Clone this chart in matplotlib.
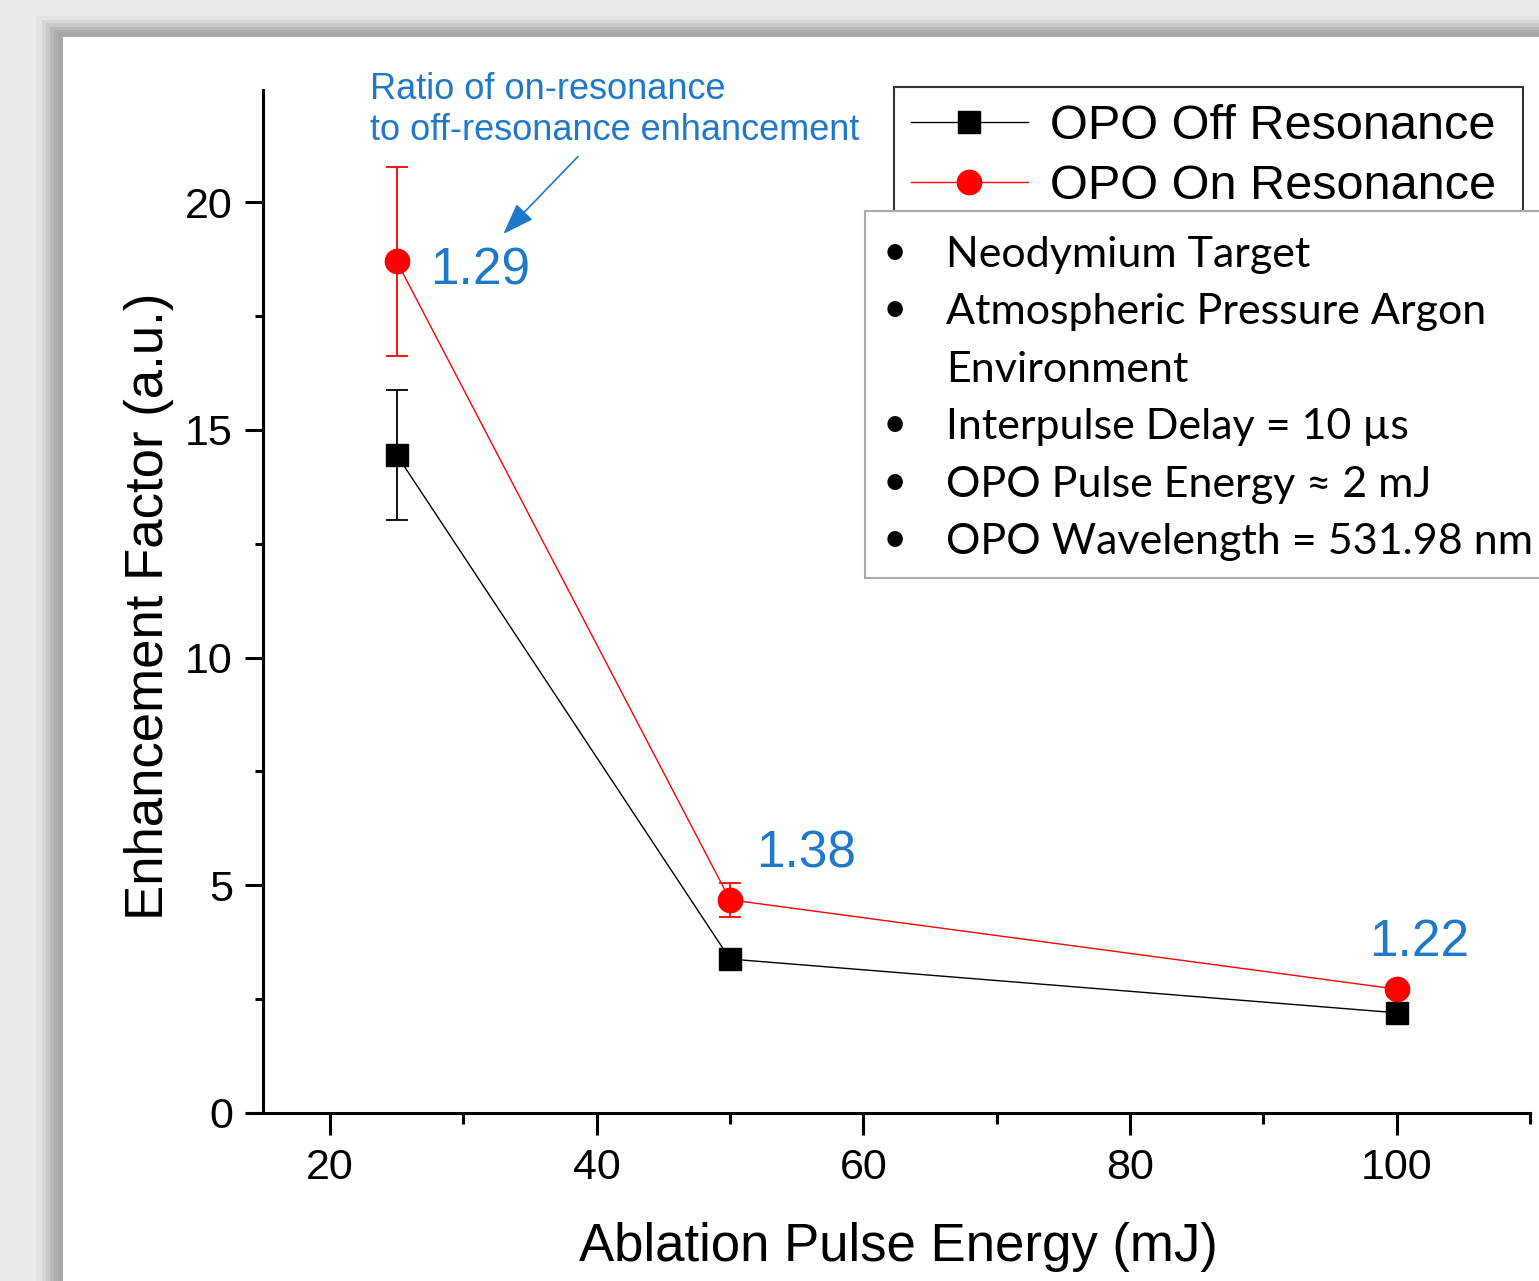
import matplotlib
matplotlib.use("Agg")
import matplotlib.pyplot as plt
from matplotlib.patches import Rectangle
from matplotlib.ticker import MultipleLocator

# -----------------------------------------------------------------------
# Data
# -----------------------------------------------------------------------
energy = [25, 50, 100]                       # ablation pulse energy (mJ)
off_res = [14.45, 3.38, 2.20]                # OPO off resonance
off_err = [1.43, 0.15, 0.10]
on_res = [18.70, 4.68, 2.72]                 # OPO on resonance
on_err = [2.07, 0.37, 0.12]
ratio_labels = ["1.29", "1.38", "1.22"]      # on / off ratio
ratio_offsets = [(24, -17), (19, 23), (-20, 24)]   # label offsets in points

conditions = [
    "Neodymium Target",
    "Atmospheric Pressure Argon",
    "Environment",
    "Interpulse Delay = 10 \u00b5s",
    "OPO Pulse Energy \u2248 2 mJ",
    "OPO Wavelength = 531.98 nm",
]
has_bullet = [True, True, False, True, True, True]

W, H = 1539, 1281
BLUE = "#1f78c8"
ARIAL = "Liberation Sans"


def fx(px):
    return px / W


def fy(py):
    return 1 - py / H


fig = plt.figure(figsize=(W / 100, H / 100), dpi=100, facecolor="#ececec")

# -- slide-style frame with soft shadow --
shadow = [(36, 16, "#e3e3e3"), (42, 20, "#d6d6d6"), (46, 23, "#c8c8c8"),
          (50, 27, "#b8b8b8"), (54, 30, "#adadad"), (58, 33, "#a8a8a8")]
for left, top, col in shadow:
    fig.patches.append(Rectangle((fx(left), 0), 1, fy(top), transform=fig.transFigure,
                                 facecolor=col, edgecolor="none", zorder=-20))
fig.patches.append(Rectangle((fx(63), 0), 1, fy(37), transform=fig.transFigure,
                             facecolor="white", edgecolor="none", zorder=-10))

# -----------------------------------------------------------------------
# Main axes
# -----------------------------------------------------------------------
ax = fig.add_axes([fx(248), fy(1113), fx(1530) - fx(248), fy(90) - fy(1113)])
ax.patch.set_alpha(0)

ax.errorbar(energy, off_res, yerr=off_err, fmt="none", ecolor="black",
            elinewidth=1.3, capsize=8, capthick=1.3, zorder=2)
ax.errorbar(energy, on_res, yerr=on_err, fmt="none", ecolor="red",
            elinewidth=1.3, capsize=8, capthick=1.3, zorder=2)
ax.plot(energy, off_res, color="black", lw=1.0, marker="s", ms=16.5,
        mec="black", mfc="black", label="OPO Off Resonance", zorder=3)
ax.plot(energy, on_res, color="red", lw=1.0, marker="o", ms=17.5,
        mec="red", mfc="red", label="OPO On Resonance", zorder=3)

for x, y, lab, (dx, dy) in zip(energy, on_res, ratio_labels, ratio_offsets):
    ax.annotate(lab, xy=(x, y), xytext=(dx, dy), textcoords="offset points",
                ha="left", va="baseline", fontsize=37, color=BLUE,
                family=ARIAL)

ax.text(23.0, 22.85, "Ratio of on-resonance\nto off-resonance enhancement",
        ha="left", va="top", fontsize=26, color=BLUE, family=ARIAL,
        linespacing=1.2, clip_on=False)
ax.annotate("", xy=(33.0, 19.3), xytext=(38.6, 21.0),
            arrowprops=dict(arrowstyle="-|>,head_length=0.7,head_width=0.25",
                            color=BLUE, lw=1.2, mutation_scale=28,
                            shrinkA=0, shrinkB=0),
            annotation_clip=False)

ax.set_xlim(13.85, 110)
ax.set_ylim(0, 22.46)
ax.spines["top"].set_visible(False)
ax.spines["right"].set_visible(False)
ax.spines["left"].set_position(("data", 15))
for s in ("left", "bottom"):
    ax.spines[s].set_linewidth(2.2)

ax.xaxis.set_major_locator(MultipleLocator(20))
ax.xaxis.set_minor_locator(MultipleLocator(10))
ax.yaxis.set_major_locator(MultipleLocator(5))
ax.yaxis.set_minor_locator(MultipleLocator(2.5))
ax.tick_params(axis="x", which="major", length=16, width=2.2, pad=9,
               labelsize=31)
ax.tick_params(axis="x", which="minor", length=8, width=2.2)
ax.tick_params(axis="y", which="major", length=13, width=2.2, pad=9,
               labelsize=31)
ax.tick_params(axis="y", which="minor", length=6, width=2.2)
for lbl in ax.get_xticklabels() + ax.get_yticklabels():
    lbl.set_family(ARIAL)

ax.set_xlabel("Ablation Pulse Energy (mJ)", fontsize=38, family=ARIAL)
ax.set_ylabel("Enhancement Factor (a.u.)", fontsize=38, family=ARIAL)
ax.xaxis.set_label_coords(0.507, -0.107)
ax.xaxis.label.set_va("top")
ax.yaxis.set_label_coords(-0.058, 0.4956)

leg = ax.legend(loc="upper left",
                bbox_to_anchor=(fx(894), fy(212), fx(1523) - fx(894), fy(87) - fy(212)),
                bbox_transform=fig.transFigure, borderaxespad=0, mode="expand",
                prop={"family": ARIAL, "size": 35}, frameon=True,
                fancybox=False, edgecolor="#333333", framealpha=1,
                handlelength=2.4, handletextpad=0.45, borderpad=0.35,
                labelspacing=0.3, numpoints=1)
leg.get_frame().set_linewidth(1.5)

# -----------------------------------------------------------------------
# Conditions box
# -----------------------------------------------------------------------
fig.patches.append(Rectangle((fx(865), fy(578)), 1, fy(211) - fy(578),
                             transform=fig.transFigure, facecolor="white",
                             edgecolor="#aaaaaa", lw=1.5, zorder=10))
for i, (line, bullet) in enumerate(zip(conditions, has_bullet)):
    base = 267 + 57.4 * i
    if bullet:
        fig.text(fx(883), fy(base - 2), "\u2022", fontsize=30, family="Lato",
                 va="baseline", ha="left", zorder=11)
    fig.text(fx(946), fy(base), line, fontsize=31, family="Lato",
             va="baseline", ha="left", zorder=11)

fig.savefig("out.png", dpi=100, facecolor=fig.get_facecolor())
